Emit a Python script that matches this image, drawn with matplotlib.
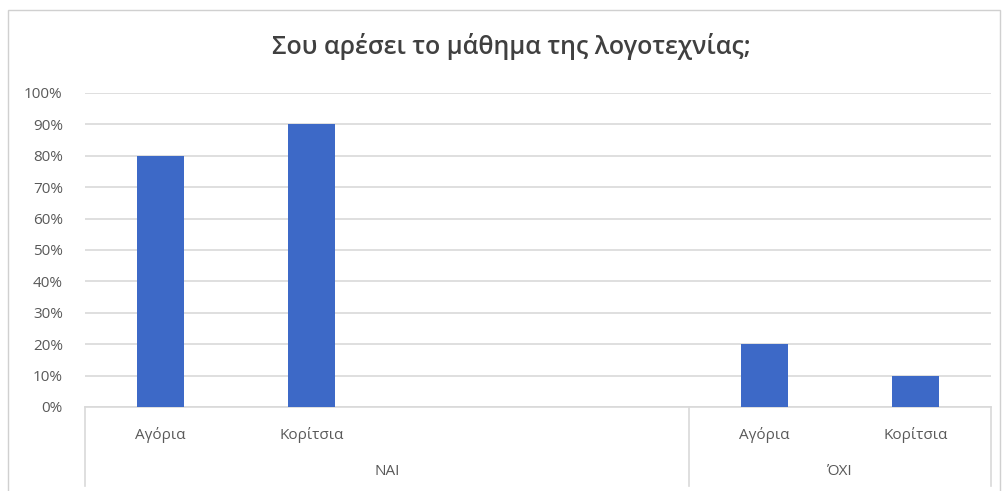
import matplotlib
matplotlib.use("Agg")
import matplotlib.pyplot as plt
from matplotlib.patches import Rectangle
from matplotlib.ticker import PercentFormatter
import matplotlib.transforms as mtransforms

plt.rcParams['font.family'] = ['Open Sans', 'Noto Sans', 'DejaVu Sans']

title = "Σου αρέσει το μάθημα της λογοτεχνίας;"
groups = ["ΝΑΙ", "ΌΧΙ"]
group_sizes = [4, 2]
subcategories = ["Αγόρια", "Κορίτσια", "", "", "Αγόρια", "Κορίτσια"]
values = [0.80, 0.90, None, None, 0.20, 0.10]
yticks = [0.0, 0.1, 0.2, 0.3, 0.4, 0.5, 0.6, 0.7, 0.8, 0.9, 1.0]

bar_color = "#3D69C7"
grid_color = "#D9D9D9"
text_color = "#595959"

fig = plt.figure(figsize=(10.03, 4.91), dpi=100)
ax = fig.add_axes([85 / 1003, 1 - 407 / 491, 906 / 1003, 314 / 491])

xs = list(range(len(subcategories)))
bx = [x for x, v in zip(xs, values) if v is not None]
bv = [v for v in values if v is not None]
ax.bar(bx, bv, width=0.31, color=bar_color, zorder=3)

ax.set_xlim(-0.5, len(subcategories) - 0.5)
ax.set_ylim(0, 1.0)
ax.set_yticks(yticks)
ax.yaxis.set_major_formatter(PercentFormatter(1.0, decimals=0))
ax.tick_params(axis='y', length=0, pad=16, labelsize=11, labelcolor=text_color)
ax.tick_params(axis='x', length=0, labelbottom=False)
ax.set_xticks([])
ax.grid(axis='y', color=grid_color, linewidth=1.2, zorder=0)
for s in ["top", "right", "left"]:
    ax.spines[s].set_visible(False)
ax.spines["bottom"].set_color(grid_color)
ax.spines["bottom"].set_linewidth(1.2)

trans = mtransforms.blended_transform_factory(ax.transData, ax.transAxes)

# first-level category labels
for x, lab in zip(xs, subcategories):
    ax.text(x, -0.089, lab, transform=trans, ha='center', va='center',
            fontsize=11, color=text_color)

# group labels and separators of the two-level axis
start = 0
bounds = [-0.5]
for g, n in zip(groups, group_sizes):
    center = start + (n - 1) / 2
    ax.text(center, -0.207, g, transform=trans, ha='center', va='center',
            fontsize=11, color=text_color)
    start += n
    bounds.append(start - 0.5)
for b in bounds:
    ax.plot([b, b], [0, -0.25], transform=trans, color=grid_color,
            linewidth=1.2, clip_on=False)

fig.text(511 / 1003, 1 - 47 / 491, title, ha='center', va='center',
         fontsize=18, fontweight='semibold', color="#404040")

# chart border
fig.patches.append(Rectangle((8 / 1003, -0.02), 992 / 1003, 1 - 10 / 491 + 0.02,
                             transform=fig.transFigure, fill=False,
                             edgecolor="#D0D0D0", linewidth=1.0))

fig.savefig("out.png", dpi=100, facecolor="white")
